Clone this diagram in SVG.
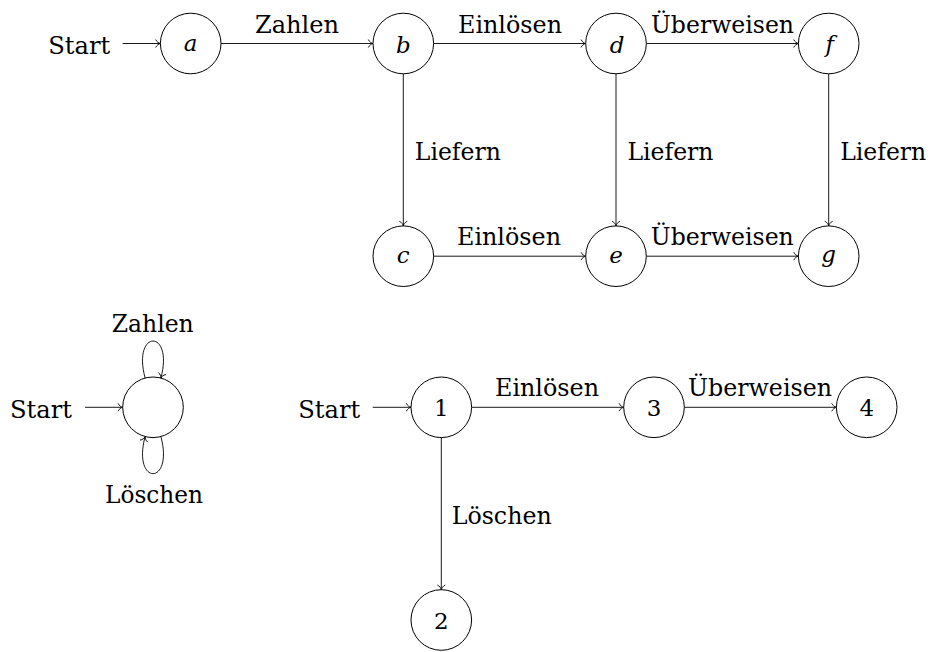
<svg xmlns="http://www.w3.org/2000/svg" width="931" height="652" viewBox="0 0 931 652">
<style>
  .n { fill: #fff; stroke: #000; stroke-width: 1; }
  .e { fill: none; stroke: #000; stroke-width: 0.9; marker-end: url(#to); }
  .lbl { font-family: "DejaVu Serif", "Liberation Serif", serif; font-size: 24px; fill: #000; }
  .m { font-family: "DejaVu Serif", "Liberation Serif", serif; font-size: 23px; font-style: italic; fill: #000; text-anchor: middle; }
  .d { font-family: "DejaVu Serif", "Liberation Serif", serif; font-size: 23px; fill: #000; text-anchor: middle; }
</style>
<defs>
  <marker id="to" markerUnits="userSpaceOnUse" viewBox="-6 -5 7 10" refX="0" refY="0" markerWidth="7" markerHeight="10" orient="auto" overflow="visible">
    <path d="M -4.5 -3.6 C -3.6 -1.6 -1.6 -0.4 0 0 C -1.6 0.4 -3.6 1.6 -4.5 3.6" fill="none" stroke="#000" stroke-width="0.9" stroke-linecap="round"/>
  </marker>
</defs>
<rect width="931" height="652" fill="#fff"/>

<g id="connectors">
  <line class="e" x1="122.7" y1="43.5" x2="160.4" y2="43.5"/>
  <line class="e" x1="221" y1="43.5" x2="373" y2="43.5"/>
  <line class="e" x1="433.6" y1="43.5" x2="585.7" y2="43.5"/>
  <line class="e" x1="646.3" y1="43.5" x2="798.4" y2="43.5"/>
  <line class="e" x1="403.3" y1="73.8" x2="403.3" y2="225.9"/>
  <line class="e" x1="616" y1="73.8" x2="616" y2="225.9"/>
  <line class="e" x1="828.7" y1="73.8" x2="828.7" y2="225.9"/>
  <line class="e" x1="433.6" y1="256.2" x2="585.7" y2="256.2"/>
  <line class="e" x1="646.3" y1="256.2" x2="798.4" y2="256.2"/>
  <line class="e" x1="85" y1="407.3" x2="122.7" y2="407.3"/>
  <path class="e" d="M 145.1 378 C 131.9 328.7 174.1 328.7 160.9 378"/>
  <path class="e" d="M 160.9 436.6 C 174.1 486 131.9 486 145.1 436.6"/>
  <line class="e" x1="372.7" y1="407.3" x2="411" y2="407.3"/>
  <line class="e" x1="471.6" y1="407.3" x2="623.7" y2="407.3"/>
  <line class="e" x1="684.3" y1="407.3" x2="836.4" y2="407.3"/>
  <line class="e" x1="441.3" y1="437.6" x2="441.3" y2="589.7"/>

  <text class="lbl" x="48.3" y="54.3" textLength="62" lengthAdjust="spacingAndGlyphs">Start</text>
  <text class="lbl" x="255" y="32.8" textLength="84" lengthAdjust="spacingAndGlyphs">Zahlen</text>
  <text class="lbl" x="458" y="32.5" textLength="104" lengthAdjust="spacingAndGlyphs">Einlösen</text>
  <text class="lbl" x="651" y="32.5" textLength="143" lengthAdjust="spacingAndGlyphs">Überweisen</text>
  <text class="lbl" x="414.8" y="160" textLength="86" lengthAdjust="spacingAndGlyphs">Liefern</text>
  <text class="lbl" x="627.5" y="160" textLength="86" lengthAdjust="spacingAndGlyphs">Liefern</text>
  <text class="lbl" x="840.2" y="160" textLength="86" lengthAdjust="spacingAndGlyphs">Liefern</text>
  <text class="lbl" x="457" y="245.2" textLength="104" lengthAdjust="spacingAndGlyphs">Einlösen</text>
  <text class="lbl" x="650.8" y="245.2" textLength="143" lengthAdjust="spacingAndGlyphs">Überweisen</text>
  <text class="lbl" x="10" y="418.1" textLength="62" lengthAdjust="spacingAndGlyphs">Start</text>
  <text class="lbl" x="111.7" y="331.7" textLength="82" lengthAdjust="spacingAndGlyphs">Zahlen</text>
  <text class="lbl" x="105" y="503" textLength="98" lengthAdjust="spacingAndGlyphs">Löschen</text>
  <text class="lbl" x="298.3" y="418.1" textLength="62" lengthAdjust="spacingAndGlyphs">Start</text>
  <text class="lbl" x="495" y="396.3" textLength="104" lengthAdjust="spacingAndGlyphs">Einlösen</text>
  <text class="lbl" x="688" y="396.3" textLength="144" lengthAdjust="spacingAndGlyphs">Überweisen</text>
  <text class="lbl" x="451.7" y="523.5" textLength="100" lengthAdjust="spacingAndGlyphs">Löschen</text>
</g>

<g id="node-a"><circle class="n" cx="190.7" cy="43.5" r="30.3"/><text class="m" x="190.7" y="50.5">a</text></g>
<g id="node-b"><circle class="n" cx="403.3" cy="43.5" r="30.3"/><text class="m" x="403.3" y="52.5">b</text></g>
<g id="node-d"><circle class="n" cx="616" cy="43.5" r="30.3"/><text class="m" x="617" y="52.5">d</text></g>
<g id="node-f"><circle class="n" cx="828.7" cy="43.5" r="30.3"/><text class="m" x="829.7" y="51.5">f</text></g>
<g id="node-c"><circle class="n" cx="403.3" cy="256.2" r="30.3"/><text class="m" x="403.3" y="263.2">c</text></g>
<g id="node-e"><circle class="n" cx="616" cy="256.2" r="30.3"/><text class="m" x="616" y="263.2">e</text></g>
<g id="node-g"><circle class="n" cx="828.7" cy="256.2" r="30.3"/><text class="m" x="828.7" y="261.5">g</text></g>
<g id="node-loop"><circle class="n" cx="153" cy="407.3" r="30.3"/></g>
<g id="node-1"><circle class="n" cx="441.3" cy="407.3" r="30.3"/><text class="d" x="441.3" y="416">1</text></g>
<g id="node-3"><circle class="n" cx="654" cy="407.3" r="30.3"/><text class="d" x="654" y="416">3</text></g>
<g id="node-4"><circle class="n" cx="866.7" cy="407.3" r="30.3"/><text class="d" x="866.7" y="416">4</text></g>
<g id="node-2"><circle class="n" cx="441.3" cy="620" r="30.3"/><text class="d" x="441.3" y="628.7">2</text></g>
</svg>
